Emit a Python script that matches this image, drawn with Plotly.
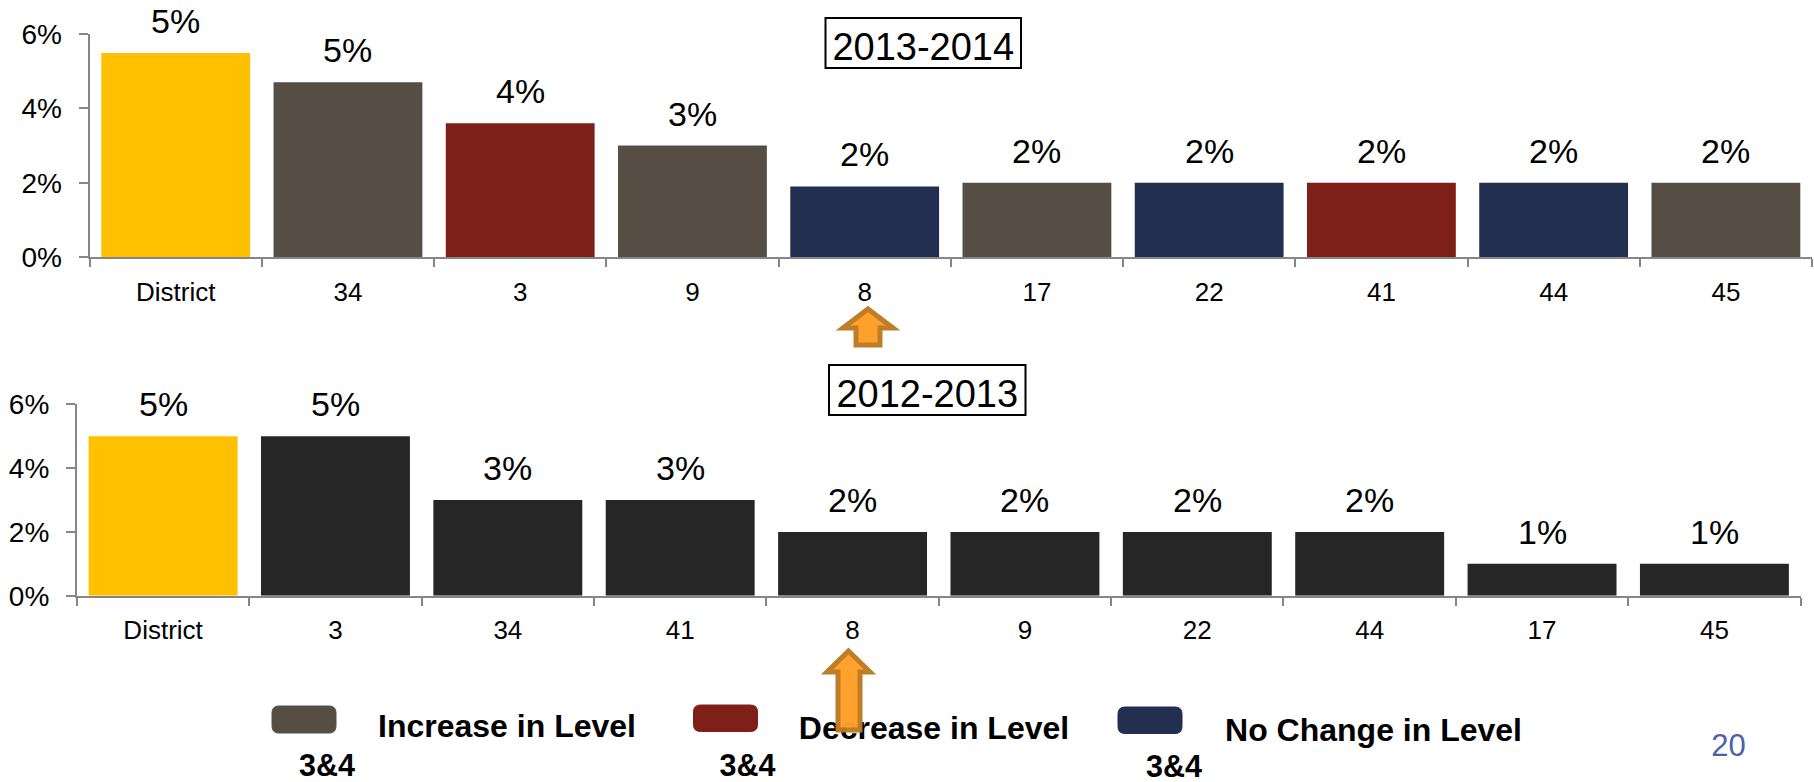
import plotly.graph_objects as go

W, H = 1814, 782
FONT = "Liberation Sans"
YELLOW, GREY, RED, NAVY, BLACK = "#FFC000", "#564E44", "#7F2018", "#222F50", "#262626"

cats_2014 = ["District", "34", "3", "9", "8", "17", "22", "41", "44", "45"]
vals_2014 = [5.48, 4.70, 3.60, 3.00, 1.90, 2.0, 2.0, 2.0, 2.0, 2.0]
labels_2014 = ["5%", "5%", "4%", "3%", "2%", "2%", "2%", "2%", "2%", "2%"]
colors_2014 = [YELLOW, GREY, RED, GREY, NAVY, GREY, NAVY, RED, NAVY, GREY]

cats_2013 = ["District", "3", "34", "41", "8", "9", "22", "44", "17", "45"]
vals_2013 = [5.0, 5.0, 3.0, 3.0, 2.0, 2.0, 2.0, 2.0, 1.0, 1.0]
labels_2013 = ["5%", "5%", "3%", "3%", "2%", "2%", "2%", "2%", "1%", "1%"]
colors_2013 = [YELLOW] + [BLACK] * 9

y_ticks = [0, 2, 4, 6]
y_tick_labels = ["0%", "2%", "4%", "6%"]


def px(x):
    return x / W


def py(y):
    return 1 - y / H


fig = go.Figure()
fig.add_trace(go.Bar(x=cats_2014, y=vals_2014, marker=dict(color=colors_2014, line_width=0),
                     xaxis="x", yaxis="y", showlegend=False))
fig.add_trace(go.Bar(x=cats_2013, y=vals_2013, marker=dict(color=colors_2013, line_width=0),
                     xaxis="x2", yaxis="y2", showlegend=False))

annotations = []
for xref, yref, ys, ls in [("x", "y", vals_2014, labels_2014),
                           ("x2", "y2", vals_2013, labels_2013)]:
    for i, (v, l) in enumerate(zip(ys, ls)):
        annotations.append(dict(x=i, y=v, xref=xref, yref=yref, text=l, showarrow=False,
                                yshift=32, font=dict(family=FONT, size=34, color="#000000")))


def text_shape(text, x0, x1, yc, size, bold=True, color="#000000"):
    t = f"<b>{text}</b>" if bold else text
    return dict(type="rect", xref="paper", yref="paper", x0=px(x0), x1=px(x1),
                y0=py(yc + 16), y1=py(yc - 16), line_width=0, fillcolor="rgba(0,0,0,0)",
                label=dict(text=t, textposition="middle center",
                           font=dict(family=FONT, size=size, color=color)))


def rounded(x0, y0, x1, y1, r, color):
    path = (f"M {px(x0 + r)} {py(y0)} L {px(x1 - r)} {py(y0)} Q {px(x1)} {py(y0)} {px(x1)} {py(y0 + r)} "
            f"L {px(x1)} {py(y1 - r)} Q {px(x1)} {py(y1)} {px(x1 - r)} {py(y1)} "
            f"L {px(x0 + r)} {py(y1)} Q {px(x0)} {py(y1)} {px(x0)} {py(y1 - r)} "
            f"L {px(x0)} {py(y0 + r)} Q {px(x0)} {py(y0)} {px(x0 + r)} {py(y0)} Z")
    return dict(type="path", xref="paper", yref="paper", path=path, fillcolor=color,
                line=dict(color=color, width=1))


def arrow(tip_x, tip_y, head_l, head_r, head_y, shaft_l, shaft_r, bottom):
    pts = [(tip_x, tip_y), (head_r, head_y), (shaft_r, head_y), (shaft_r, bottom),
           (shaft_l, bottom), (shaft_l, head_y), (head_l, head_y)]
    path = "M " + " L ".join(f"{px(a)} {py(b)}" for a, b in pts) + " Z"
    return dict(type="path", xref="paper", yref="paper", path=path, fillcolor="#FF9F27",
                line=dict(color="#BC7A22", width=5), opacity=0.97)


def title_box(text, x0, y0, x1, y1):
    return dict(type="rect", xref="paper", yref="paper", x0=px(x0), x1=px(x1), y0=py(y1), y1=py(y0),
                fillcolor="#FFFFFF", line=dict(color="#000000", width=2),
                label=dict(text=text, textposition="middle center",
                           font=dict(family=FONT, size=38, color="#000000")))


shapes = [
    title_box("2013-2014", 825.5, 18, 1021, 68),
    title_box("2012-2013", 829, 365, 1025.5, 415),
    rounded(272, 706, 336, 733, 7, GREY),
    rounded(693.5, 705, 757.5, 731.5, 7, RED),
    rounded(1118, 707, 1182, 733.5, 7, NAVY),
    text_shape("Increase in Level", 379, 635, 723, 32),
    text_shape("Decrease in Level", 800, 1068, 725, 32),
    text_shape("No Change in Level", 1226, 1521, 727, 32),
    text_shape("3&amp;4", 298, 356, 762, 30.5),
    text_shape("3&amp;4", 719, 776, 762, 30.5),
    text_shape("3&amp;4", 1145, 1203, 763, 30.5),
    text_shape("20", 1711, 1746, 742, 31, bold=False, color="#4A63A8"),
    arrow(868, 309, 843, 893, 328, 856, 880, 345),
    arrow(848.5, 651, 827, 870, 672, 838, 860, 730),
]

axis_line = dict(showline=True, linecolor="#868686", linewidth=2, ticks="outside",
                 tickcolor="#868686", tickwidth=1.5, showgrid=False, zeroline=False)


def xaxis(domain, anchor):
    return dict(domain=domain, anchor=anchor, type="category", tickson="boundaries", ticklen=8,
                range=[-0.5, 9.5], tickangle=0, ticklabelstandoff=10,
                tickfont=dict(family=FONT, size=26, color="#000000"), **axis_line)


def yaxis(domain, anchor):
    return dict(domain=domain, anchor=anchor, range=[0, 6], tickmode="array", tickvals=y_ticks,
                ticktext=y_tick_labels, ticklen=9, ticklabelstandoff=11,
                tickfont=dict(family=FONT, size=28, color="#000000"), **axis_line)


fig.update_layout(
    width=W, height=H, margin=dict(l=0, r=0, t=0, b=0, autoexpand=False),
    paper_bgcolor="#FFFFFF", plot_bgcolor="#FFFFFF", bargap=0.136,
    xaxis=xaxis([px(89.6), px(1812)], "y"),
    yaxis=yaxis([py(257.3), py(33.7)], "x"),
    xaxis2=xaxis([px(76.9), px(1800.6)], "y2"),
    yaxis2=yaxis([py(595.7), py(404.3)], "x2"),
    annotations=annotations, shapes=shapes,
)

fig.write_html("out.html", config={"displayModeBar": False},
               post_script="document.body.style.margin='0';document.body.style.overflow='hidden';")
